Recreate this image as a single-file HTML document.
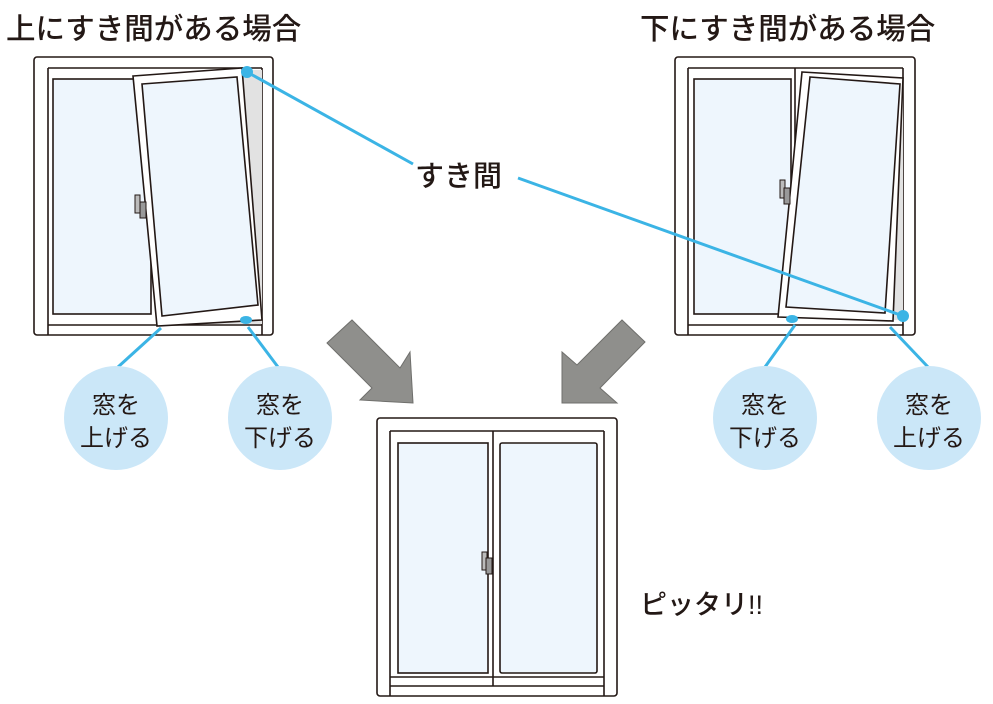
<!DOCTYPE html>
<html><head><meta charset="utf-8"><style>
html,body{margin:0;padding:0;background:#fff}
svg{display:block}
text{font-family:"Liberation Sans","Noto Sans CJK JP",sans-serif;fill:#231815}
</style></head><body>
<svg width="993" height="704" viewBox="0 0 993 704" xmlns="http://www.w3.org/2000/svg">
<g font-weight="500">
<text x="6" y="39" font-size="29.5">上にすき間がある場合</text>
<text x="640" y="39" font-size="29.5">下にすき間がある場合</text>
</g>

<g stroke="#231815" stroke-width="1.6" fill="none">
<rect x="34" y="57" width="239" height="278" rx="3" fill="#fff"/>
<line x1="48" y1="68" x2="262" y2="68"/>
<line x1="48" y1="68" x2="48" y2="335"/>
<line x1="262" y1="68" x2="262" y2="335"/>
<line x1="48" y1="325" x2="262" y2="325"/>
<polygon points="243,70 262,70 262,318 257,320" fill="#e2e2e2" stroke="none"/>
<polygon points="160,322 248,316 262,318 262,324 160,324" fill="#e2e2e2" stroke="none"/>
<rect x="53" y="79" width="98" height="235" fill="#eef6fd"/>
<polygon points="133,76 242,68 262,320 157,326" fill="#fff"/>
<polygon points="142,84 237,77 258,305 162,316" fill="#eef6fd"/>
<rect x="135" y="195" width="5" height="18" fill="#bbb" stroke-width="1"/>
<rect x="140" y="202" width="6" height="16" fill="#999" stroke-width="1"/>
</g>
<ellipse cx="246" cy="320" rx="6" ry="4" fill="#3bb4e5"/>

<g stroke="#231815" stroke-width="1.6" fill="none">
<rect x="675" y="57" width="240" height="278" rx="3" fill="#fff"/>
<line x1="688" y1="68" x2="903" y2="68"/>
<line x1="688" y1="68" x2="688" y2="335"/>
<line x1="903" y1="68" x2="903" y2="335"/>
<line x1="688" y1="325" x2="903" y2="325"/>
<polygon points="893,320 903,84 903,320" fill="#e2e2e2" stroke="none"/>
<rect x="694" y="79" width="97" height="235" fill="#eef6fd"/>
<line x1="795" y1="68" x2="795" y2="320"/>
<polygon points="802,72 903,78 893,321 778,317" fill="#fff"/>
<polygon points="810,77 900,84 885,313 786,307" fill="#eef6fd"/>
<rect x="780" y="180" width="5" height="18" fill="#bbb" stroke-width="1"/>
<rect x="784" y="188" width="6" height="16" fill="#999" stroke-width="1"/>
</g>
<ellipse cx="792" cy="319" rx="6" ry="4" fill="#3bb4e5"/>

<g stroke="#231815" stroke-width="1.6" fill="none">
<rect x="377" y="418" width="240" height="278" rx="3" fill="#fff"/>
<line x1="390" y1="431" x2="604" y2="431"/>
<line x1="390" y1="431" x2="390" y2="696"/>
<line x1="604" y1="431" x2="604" y2="696"/>
<line x1="390" y1="686" x2="604" y2="686"/>
<line x1="390" y1="677" x2="604" y2="677"/>
<rect x="398" y="443" width="90" height="230" fill="#eef6fd"/>
<rect x="500" y="443" width="97" height="230" fill="#eef6fd" rx="2"/>
<line x1="493" y1="431" x2="493" y2="686"/>
<rect x="482" y="552" width="5" height="18" fill="#bbb" stroke-width="1"/>
<rect x="486" y="558" width="6" height="16" fill="#999" stroke-width="1"/>
</g>

<g fill="#8f8f8c" stroke="#6f6f6c" stroke-width="1">
<polygon points="327,343 352,320 400,368 410,352 413,403 360,400 372,388"/>
<polygon points="645,342 622,320 577,365 562,352 562,403 617,403 600,388"/>
</g>

<g stroke="#3bb4e5" stroke-width="3" fill="none">
<line x1="247" y1="72" x2="413" y2="164"/>
<line x1="518" y1="178" x2="903" y2="316"/>
<line x1="161" y1="328" x2="118" y2="367"/>
<line x1="248" y1="327" x2="278" y2="367"/>
<line x1="795" y1="325" x2="765" y2="367"/>
<line x1="890" y1="327" x2="928" y2="367"/>
</g>
<circle cx="247" cy="72" r="6" fill="#3bb4e5"/>
<circle cx="903" cy="316" r="6" fill="#3bb4e5"/>
<text x="415" y="186" font-size="29" font-weight="500">すき間</text>

<g fill="#cbe7f8">
<circle cx="116" cy="418" r="52"/>
<circle cx="280" cy="418" r="52"/>
<circle cx="765" cy="418" r="52"/>
<circle cx="929" cy="418" r="52"/>
</g>
<g font-size="24" text-anchor="middle">
<text x="116" y="413">窓を</text><text x="116" y="446">上げる</text>
<text x="280" y="413">窓を</text><text x="280" y="446">下げる</text>
<text x="765" y="413">窓を</text><text x="765" y="446">下げる</text>
<text x="929" y="413">窓を</text><text x="929" y="446">上げる</text>
</g>

<text x="640" y="614" font-size="27" font-weight="500">ピッタリ!!</text>
</svg>
</body></html>
